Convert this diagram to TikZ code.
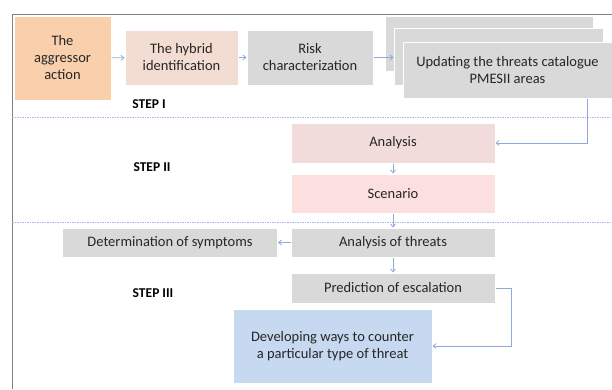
\documentclass[tikz,border=0pt]{standalone}
\usepackage{fontspec}
\setmainfont{Carlito}
\usepackage{xcolor}
\usetikzlibrary{positioning,arrows.meta}
\definecolor{peach}{HTML}{FAD0AC}
\definecolor{pale}{HTML}{F3DDD2}
\definecolor{grey}{HTML}{D9D9D9}
\definecolor{rose}{HTML}{F2DCDB}
\definecolor{pink}{HTML}{FCDFDF}
\definecolor{sky}{HTML}{C6D9F1}
\definecolor{link}{HTML}{8EAADB}
\begin{document}
\begin{tikzpicture}[x=1pt, y=-1pt,
  every node/.style = {font=\fontsize{14.5}{17}\selectfont, text=black!85},
  box/.style = {rectangle, draw=white, line width=1pt, align=center, inner sep=1pt},
  steplabel/.style = {font=\fontsize{13.5}{15}\selectfont\bfseries, text=black},
  flow/.style = {draw=link, line width=0.8pt, -{Straight Barb[length=3pt,width=5pt]}},
  sep/.style = {draw=link!80, line width=0.8pt, dash pattern=on 1.5pt off 1pt}
]
\useasboundingbox (0,0) rectangle (612,389);
\draw[gray, line width=1pt] (12,389) -- (12,14) -- (612,14);

% step I
\node[box, fill=peach, minimum width=97pt, minimum height=84pt] (aggr) at (62.5,58) {The\\aggressor\\action};
\node[box, fill=pale, minimum width=113pt, minimum height=55pt] (hybrid) at (181.5,57.5) {The hybrid\\identification};
\node[box, fill=grey, minimum width=126pt, minimum height=55pt] (risk) at (310,57.5) {Risk\\characterization};
\node[box, fill=grey, minimum width=208pt, minimum height=55pt] (back) at (489,43.5) {};
\node[box, fill=grey, minimum width=209pt, minimum height=57pt] (mid) at (498.5,56.5) {};
\node[box, fill=grey, minimum width=209pt, minimum height=56pt] (upd) at (507.5,70) {Updating the threats catalogue\\PMESII areas};
\node[steplabel] (s1) at (149,104) {STEP I};
\draw[sep] (12,117) -- (612,117);

% step II
\node[box, fill=rose, minimum width=204pt, minimum height=40pt] (analysis) at (393,143) {Analysis};
\node[box, fill=pink, minimum width=204pt, minimum height=39pt, below=10pt of analysis] (scen) {Scenario};
\node[steplabel] (s2) at (152,167) {STEP II};
\draw[sep] (12,222) -- (612,222);

% step III
\node[box, fill=grey, minimum width=204pt, minimum height=29pt] (threats) at (393,242.5) {Analysis of threats};
\node[box, fill=grey, minimum width=215pt, minimum height=29pt] (sympt) at (170,242.5) {Determination of symptoms};
\node[box, fill=grey, minimum width=204pt, minimum height=30pt, below=15pt of threats] (pred) {Prediction of escalation};
\node[box, fill=sky, minimum width=199pt, minimum height=74pt] (counter) at (332.5,346) {Developing ways to counter\\a particular type of threat};
\node[steplabel] (s3) at (153,293) {STEP III};

\draw[flow] (aggr) -- (hybrid);
\draw[flow] (hybrid) -- (risk);
\draw[flow] (risk.east) -- (risk.east -| mid.west);
\draw[flow] ([xshift=-25pt]upd.south east) |- (analysis.east);
\draw[flow] (analysis) -- (scen);
\draw[flow] (scen) -- (threats);
\draw[flow] (threats) -- (sympt);
\draw[flow] (threats) -- (pred);
\draw[flow] (pred.east) -- ++(16,0) |- (counter.east);
\end{tikzpicture}
\end{document}
